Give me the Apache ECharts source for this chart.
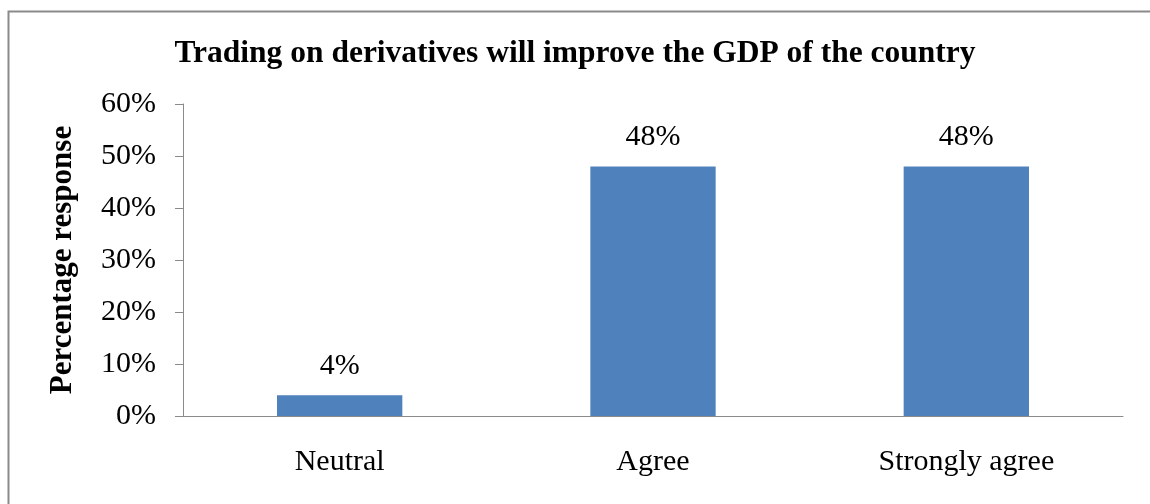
<!DOCTYPE html>
<html>
<head>
<meta charset="utf-8">
<script src="https://cdn.jsdelivr.net/npm/echarts@6/dist/echarts.min.js"></script>
<style>
  html, body { margin: 0; padding: 0; background: #fff; }
  #chart { width: 1150px; height: 504px; }
</style>
</head>
<body>
<div id="chart"></div>
<script>
// Survey responses: "Trading on derivatives will improve the GDP of the country"
const categories = ['Neutral', 'Agree', 'Strongly agree'];
const responses = [4, 48, 48];           // percent of respondents
const yTicks = [0, 10, 20, 30, 40, 50, 60];

const serif = '"Liberation Serif", "DejaVu Serif", serif';

const chart = echarts.init(document.getElementById('chart'), null, { renderer: 'canvas' });

chart.setOption({
  animation: false,
  backgroundColor: '#ffffff',
  graphic: [{
    type: 'rect',
    left: 6, top: 9,
    shape: { width: 1200, height: 600 },
    style: { fill: 'none', stroke: '#8a8a8a', lineWidth: 2 },
    silent: true
  }],
  title: {
    text: 'Trading on derivatives will improve the GDP of the country',
    left: 'center',
    top: 33,
    textStyle: { fontFamily: serif, fontSize: 31.5, fontWeight: 'bold', color: '#000' }
  },
  grid: { left: 183, right: 27, top: 104, bottom: 88, containLabel: false },
  xAxis: {
    type: 'category',
    data: categories,
    axisLine: { lineStyle: { color: '#8a8a8a', width: 1 } },
    axisTick: { show: false },
    axisLabel: { fontFamily: serif, fontSize: 30, color: '#000', margin: 31 }
  },
  yAxis: {
    type: 'value',
    min: yTicks[0],
    max: yTicks[yTicks.length - 1],
    interval: 10,
    name: 'Percentage response',
    nameLocation: 'middle',
    nameGap: 105,
    nameTextStyle: { fontFamily: serif, fontSize: 31, fontWeight: 'bold', color: '#000' },
    axisLine: { show: true, lineStyle: { color: '#8a8a8a', width: 1 } },
    axisTick: { show: true, length: 8, lineStyle: { color: '#8a8a8a' } },
    splitLine: { show: false },
    axisLabel: {
      fontFamily: serif, fontSize: 30, color: '#000', margin: 27,
      formatter: v => v + '%'
    }
  },
  series: [{
    type: 'bar',
    data: responses,
    barWidth: '40%',
    itemStyle: { color: '#4F81BD' },
    label: {
      show: true,
      position: 'top',
      distance: 14,
      fontFamily: serif, fontSize: 30, color: '#000',
      formatter: p => p.value + '%'
    }
  }]
});
</script>
</body>
</html>
